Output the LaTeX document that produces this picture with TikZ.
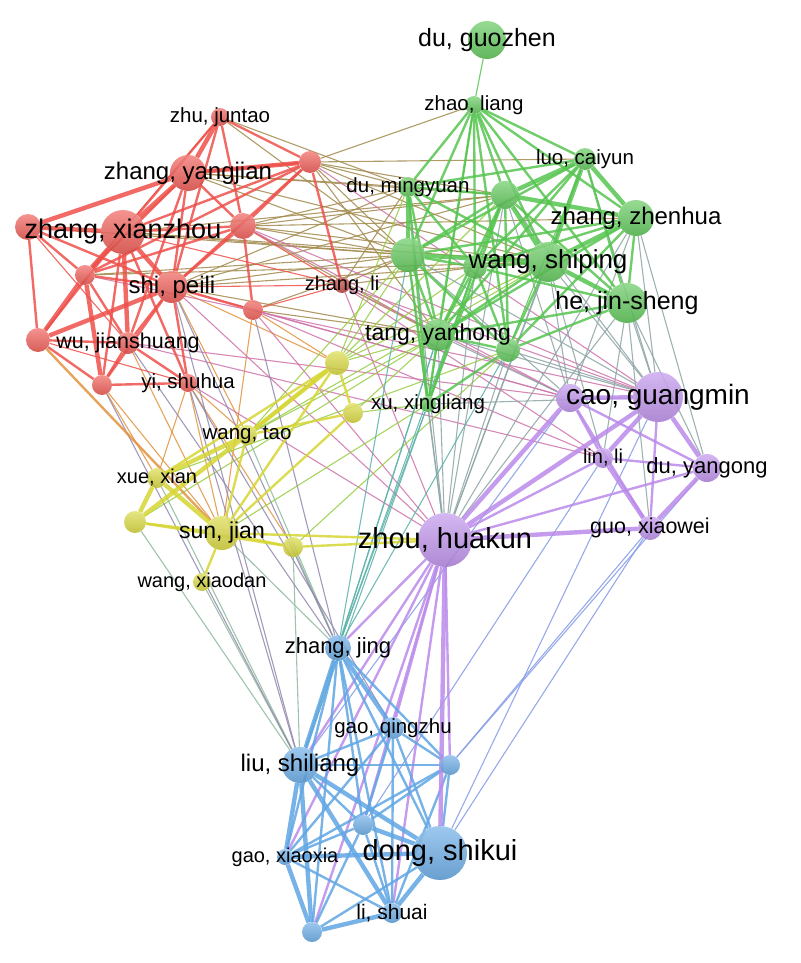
\documentclass[tikz,border=0pt]{standalone}
\usepackage{fontspec}
\setmainfont{Liberation Sans}
\definecolor{cred}{RGB}{238,80,74}
\definecolor{cgreen}{RGB}{86,196,80}
\definecolor{cpurple}{RGB}{186,138,234}
\definecolor{cyellow}{RGB}{214,214,52}
\definecolor{cblue}{RGB}{96,166,228}
\pgfdeclarelayer{edges}
\pgfsetlayers{edges,main}
\tikzstyle{nd} = [circle, inner sep=0mm, fill opacity=.88]
\tikzstyle{lab} = [inner sep=0mm, text=black]
\tikzstyle{l1} = [line width=1.1pt, draw opacity=.85]
\tikzstyle{l2} = [line width=2.4pt, draw opacity=.85]
\tikzstyle{l3} = [line width=4.4pt, draw opacity=.85]

\begin{document}
\begin{tikzpicture}[x=1pt, y=-1pt]
    \useasboundingbox (0,0) rectangle (800,963);

    % nodes: name/x/y/radius/colour
    \foreach \n/\x/\y/\r/\c in {zhu/220/117/9/cred, ra/310/162/11/cred, yangjian/188/173/18/cred,
        xianzhou/123/232/22/cred, rb/28/227/13/cred, rc/243/226/13/cred, rd/85/275/10/cred,
        peili/172/287/16/cred, re/253/310/10/cred, zhangli/342/285/8/cred!80!black, wu/128/343/11/cred,
        rf/38/340/12/cred, yi/188/383/9/cred, rg/102/385/10/cred,
        guozhen/487/40/19/cgreen, zhao/474/105/9/cgreen, luo/585/159/11/cgreen,
        mingyuan/408/187/10/cgreen, ga/505/195/14/cgreen, zhenhua/636/218/18/cgreen,
        gb/408/255/17/cgreen, shiping/548/262/20/cgreen, gc/475/267/12/cgreen,
        jinsheng/627/303/20/cgreen, tang/438/335/16/cgreen, gd/508/350/12/cgreen,
        xingliang/428/404/8/cgreen,
        guangmin/658/397/25/cpurple, pa/570/398/14/cpurple, linli/603/458/10/cpurple,
        yangong/707/468/14/cpurple, guo/650/528/12/cpurple, huakun/445/540/27/cpurple,
        ya/337/363/12/cyellow, yb/353/413/10/cyellow, wangtao/247/435/10/cyellow,
        xue/157/478/10/cyellow, yc/135/522/11/cyellow, sunjian/222/533/17/cyellow,
        yd/293/547/10/cyellow, xiaodan/202/582/9/cyellow,
        zhangjing/338/648/13/cblue, qingzhu/393/728/11/cblue, shiliang/300/765/18/cblue,
        ba/450/765/10/cblue, bb/363/825/10/cblue, shikui/440/853/27/cblue,
        xiaoxia/285/857/8/cblue, lishuai/392/913/10/cblue, bc/312/932/10/cblue}
    \node[nd, minimum size=2*\r pt, top color=\c!70!white, bottom color=\c!88!black] (\n) at (\x,\y) {};

    \begin{pgfonlayer}{edges}
    % links between clusters
    \foreach \f/\t in {ra/zhao, ra/mingyuan, ra/gb, ra/ga, ra/shiping, ra/tang, xianzhou/gb, xianzhou/shiping,
        xianzhou/ga, yangjian/gb, yangjian/ga, yangjian/mingyuan, peili/gb, peili/shiping, peili/ga,
        peili/tang, peili/mingyuan, rc/gb, rc/ga, rc/tang, rc/shiping, rc/mingyuan, zhangli/gb,
        zhangli/mingyuan, zhangli/tang, rd/gb, rd/shiping, zhu/mingyuan, zhu/gb, rb/gb, re/gb, re/tang,
        rc/zhenhua, ra/luo, yangjian/shiping, zhangli/gc}
    \draw[l1, cred!50!cgreen] (\f) -- (\t);
    \foreach \f/\t in {yi/wangtao, yi/sunjian, rg/sunjian, wu/sunjian, peili/wangtao, yi/xue, rg/xue,
        peili/ya, re/ya, yi/yd, re/sunjian}
    \draw[l1, cred!50!cyellow] (\f) -- (\t);
    \foreach \f/\t in {peili/huakun, re/huakun, rc/guangmin, zhangli/guangmin, zhangli/pa, re/pa,
        yi/huakun, rd/guangmin, peili/pa, re/linli, zhangli/linli, wu/pa, ra/guangmin, rc/pa,
        zhangli/huakun, wu/linli}
    \draw[l1, cred!40!cpurple] (\f) -- (\t);
    \foreach \f/\t in {ya/tang, ya/gb, ya/mingyuan, ya/shiping, ya/gc, yb/xingliang, yb/tang, wangtao/gb,
        wangtao/tang, ya/ga, sunjian/xingliang, yd/gd, xue/gd, yc/tang, wangtao/shiping}
    \draw[l1, cgreen!50!cyellow] (\f) -- (\t);
    \foreach \f/\t in {shiping/guangmin, jinsheng/guangmin, jinsheng/huakun, tang/huakun, gd/huakun,
        gb/huakun, zhenhua/guangmin, ga/huakun, xingliang/huakun, shiping/huakun, zhenhua/pa,
        jinsheng/linli, zhenhua/yangong, shiping/pa, jinsheng/yangong, gc/huakun, luo/guangmin,
        gd/guangmin, tang/guangmin, mingyuan/huakun, jinsheng/guo, zhenhua/huakun, luo/huakun,
        ga/pa, gb/pa, tang/pa, ga/guangmin, gb/guangmin, shiping/linli, xingliang/guangmin}
    \draw[l1, cgreen!45!cpurple] (\f) -- (\t);
    \foreach \f/\t in {tang/zhangjing, gb/zhangjing, xingliang/zhangjing, gd/zhangjing,
        xingliang/shiliang, tang/shiliang, gc/zhangjing}
    \draw[l1, cgreen!40!cblue] (\f) -- (\t);
    \foreach \f/\t in {sunjian/zhangjing, yc/shiliang, xue/shiliang, yd/zhangjing, wangtao/zhangjing,
        yd/shiliang, xiaodan/shiliang}
    \draw[l1, cyellow!40!cblue] (\f) -- (\t);
    \foreach \f/\t in {peili/zhangjing, re/zhangjing, yi/shiliang, wu/zhangjing, rg/shiliang,
        peili/shiliang, yi/qingzhu}
    \draw[l1, cred!35!cblue] (\f) -- (\t);
    \foreach \f/\t in {guangmin/shikui, guo/shikui, yangong/ba, linli/bb, guo/ba, pa/shiliang}
    \draw[l1, cpurple!40!cblue] (\f) -- (\t);
    \foreach \f/\t in {rc/zhangli, re/zhangli, peili/zhangli, rb/wu, rf/yi, zhu/rd, zhangli/xianzhou}
    \draw[l1, cred] (\f) -- (\t);
    \foreach \f/\t in {zhao/guozhen, zhao/xingliang, luo/gd}
    \draw[l1, cgreen] (\f) -- (\t);
    \draw[l2, cred!50!cyellow] (rf) -- (sunjian);

    % links inside clusters
    \foreach \f/\t in {zhu/ra, zhu/rc, zhu/xianzhou, zhu/peili, ra/yangjian, ra/rc, ra/xianzhou, ra/peili,
        ra/rd, yangjian/rc, yangjian/peili, yangjian/rd, yangjian/wu, rc/peili, rc/re, rc/xianzhou,
        rb/rd, rb/rf, rb/peili, rd/peili, rd/wu, peili/wu, peili/rg, peili/yi, peili/re, rf/rg,
        rf/wu, rg/yi, wu/rg, wu/yi, xianzhou/rg, xianzhou/yi, xianzhou/rf, rc/rd, ra/zhangli}
    \draw[l2, cred] (\f) -- (\t);
    \foreach \f/\t in {zhao/mingyuan, zhao/ga, zhao/luo, zhao/zhenhua, zhao/gb, zhao/shiping, zhao/gc,
        zhao/jinsheng, zhao/tang, zhao/gd, luo/mingyuan, luo/gb, luo/gc, luo/jinsheng, luo/tang,
        mingyuan/ga, mingyuan/shiping, mingyuan/tang, mingyuan/gc, ga/gb, ga/gc, ga/jinsheng,
        ga/tang, ga/gd, zhenhua/jinsheng, zhenhua/gb, zhenhua/gc, zhenhua/tang, zhenhua/gd, gb/gc,
        gb/tang, gb/gd, gb/xingliang, shiping/tang, shiping/gc, shiping/gd, jinsheng/tang,
        jinsheng/gc, jinsheng/gd, tang/gc, tang/gd, tang/xingliang, gc/gd, gc/xingliang,
        gd/xingliang, mingyuan/xingliang, ga/xingliang}
    \draw[l2, cgreen] (\f) -- (\t);
    \foreach \f/\t in {guangmin/guo, pa/linli, pa/yangong, pa/guo, linli/yangong, linli/huakun,
        yangong/huakun, huakun/shiliang, huakun/bb, huakun/lishuai, huakun/ba, huakun/qingzhu,
        huakun/bc, huakun/zhangjing, huakun/xiaoxia}
    \draw[l2, cpurple] (\f) -- (\t);
    \foreach \f/\t in {ya/yb, ya/wangtao, ya/sunjian, ya/xue, yb/wangtao, yb/sunjian, wangtao/sunjian,
        sunjian/yd, sunjian/xiaodan, yc/yd, yd/huakun, sunjian/huakun, yc/sunjian}
    \draw[l2, cyellow] (\f) -- (\t);
    \foreach \f/\t in {zhangjing/ba, zhangjing/bb, zhangjing/shikui, zhangjing/xiaoxia, zhangjing/lishuai,
        zhangjing/bc, qingzhu/shiliang, qingzhu/ba, qingzhu/bb, qingzhu/shikui, qingzhu/xiaoxia,
        qingzhu/lishuai, shiliang/ba, shiliang/bb, ba/bb, ba/shikui, ba/xiaoxia, ba/lishuai,
        bb/xiaoxia, bb/lishuai, bb/bc, shikui/bc, xiaoxia/lishuai}
    \draw[l2, cblue] (\f) -- (\t);

    \foreach \f/\t in {xianzhou/yangjian, xianzhou/peili, xianzhou/rd, rf/peili, xianzhou/rb,
        yangjian/zhu, yangjian/ra, rd/rf, xianzhou/wu, rb/yangjian, rd/rg}
    \draw[l3, cred] (\f) -- (\t);
    \foreach \f/\t in {zhenhua/shiping, luo/zhenhua, ga/shiping, luo/shiping, jinsheng/shiping,
        ga/zhenhua, luo/ga, mingyuan/gb, gb/shiping}
    \draw[l3, cgreen] (\f) -- (\t);
    \foreach \f/\t in {guangmin/huakun, guangmin/pa, guangmin/yangong, guangmin/linli, linli/guo,
        yangong/guo, guo/huakun, huakun/shikui, pa/huakun}
    \draw[l3, cpurple] (\f) -- (\t);
    \foreach \f/\t in {xue/yc, wangtao/xue, wangtao/yc, xue/sunjian, wangtao/ya}
    \draw[l3, cyellow] (\f) -- (\t);
    \foreach \f/\t in {shiliang/shikui, shikui/lishuai, shiliang/zhangjing, shiliang/xiaoxia,
        zhangjing/qingzhu, bb/shikui, xiaoxia/bc, bc/lishuai, shiliang/bc, shiliang/lishuai,
        shikui/xiaoxia}
    \draw[l3, cblue] (\f) -- (\t);
    \end{pgfonlayer}

    % labels: node/font size/text
    \foreach \n/\s/\t in {zhu/20.5/{zhu, juntao}, yangjian/24/{zhang, yangjian},
        xianzhou/27/{zhang, xianzhou}, peili/24/{shi, peili}, zhangli/20/{zhang, li},
        wu/21.5/{wu, jianshuang}, yi/20.5/{yi, shuhua},
        guozhen/25/{du, guozhen}, zhao/20.5/{zhao, liang}, luo/20.5/{luo, caiyun},
        mingyuan/20.5/{du, mingyuan}, zhenhua/24/{zhang, zhenhua}, shiping/26/{wang, shiping},
        jinsheng/25/{he, jin-sheng}, tang/23/{tang, yanhong}, xingliang/20.5/{xu, xingliang},
        guangmin/28/{cao, guangmin}, linli/20/{lin, li}, yangong/22/{du, yangong},
        guo/21.5/{guo, xiaowei}, huakun/29/{zhou, huakun},
        wangtao/20.5/{wang, tao}, xue/20/{xue, xian}, sunjian/23/{sun, jian},
        xiaodan/20/{wang, xiaodan},
        zhangjing/22/{zhang, jing}, qingzhu/20.5/{gao, qingzhu}, shiliang/24/{liu, shiliang},
        shikui/29/{dong, shikui}, xiaoxia/20/{gao, xiaoxia}, lishuai/21/{li, shuai}}
    \node[lab, font=\fontsize{\s}{\s}\selectfont] (\n l) at (\n) {\t};
\end{tikzpicture}
\end{document}
